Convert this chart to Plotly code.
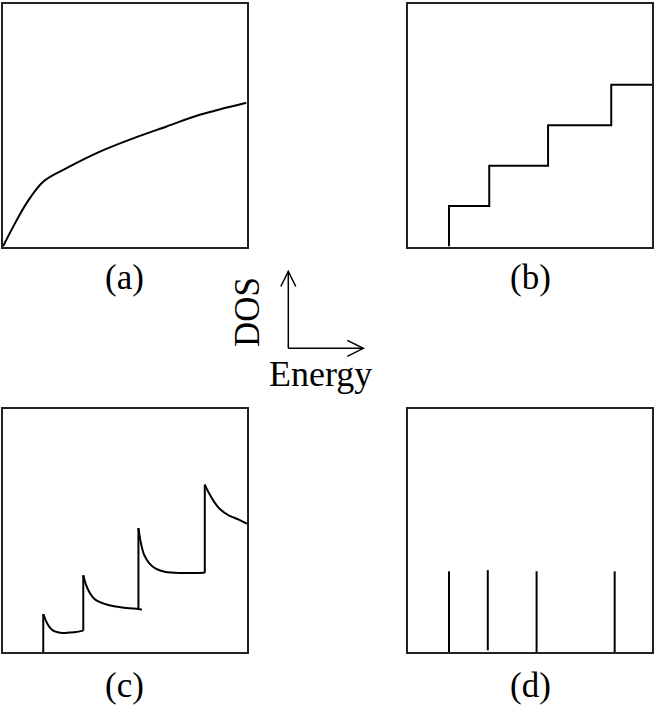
import plotly.graph_objects as go

# ---- data (energy axis normalised to 0..1 in every panel) ----
# (a) bulk: smooth rise with a knee
a_energy = [0.0, 0.042, 0.097, 0.166, 0.261, 0.398, 0.535, 0.672, 0.808, 1.0]
a_dos = [0.0, 0.082, 0.179, 0.268, 0.323, 0.391, 0.446, 0.495, 0.543, 0.593]

# (b) quantum well: staircase
b_onsets = [0.168, 0.333, 0.574, 0.833]
b_levels = [1, 2, 3, 4]

# (c) quantum wire: spikes at each sub-band edge
c_onsets = [0.165, 0.329, 0.555, 0.827]
c_base = [0.0, 0.088, 0.177, 0.326]
c_seg_x = [
    [0.165, 0.177, 0.190, 0.204, 0.224, 0.245, 0.272, 0.299, 0.329],
    [0.329, 0.340, 0.354, 0.374, 0.395, 0.435, 0.476, 0.517, 0.555, 0.569],
    [0.555, 0.565, 0.578, 0.599, 0.626, 0.667, 0.721, 0.776, 0.827],
    [0.827, 0.844, 0.864, 0.891, 0.925, 0.966, 1.0],
]
c_seg_y = [
    [0.156, 0.126, 0.103, 0.089, 0.081, 0.078, 0.080, 0.082, 0.088],
    [0.316, 0.277, 0.246, 0.219, 0.206, 0.192, 0.185, 0.180, 0.177, 0.174],
    [0.510, 0.449, 0.401, 0.366, 0.343, 0.329, 0.325, 0.325, 0.326],
    [0.689, 0.654, 0.620, 0.586, 0.562, 0.545, 0.528],
]

# (d) quantum dot: discrete levels
d_levels = [0.168, 0.327, 0.527, 0.847]
d_heights = [0.332, 0.337, 0.332, 0.332]
d_base = [0.0, 0.007, 0.0, 0.0]

panel_labels = ["(a)", "(b)", "(c)", "(d)"]

# ---- layout geometry (pixels) ----
W, H = 654, 705
FONT = "'Liberation Serif', 'Times New Roman', Times, serif"
LINE = dict(color="black", width=2)


def xd(l, r):
    return [l / W, r / W]


def yd(t, b):
    return [1 - b / H, 1 - t / H]


def px(x):
    return x / W


def py(y):
    return 1 - y / H


fig = go.Figure()

# (a)
fig.add_trace(go.Scatter(x=a_energy, y=a_dos, mode="lines", line=dict(**LINE, shape="spline", smoothing=1.0),
                         xaxis="x", yaxis="y"))

# (b)
bx = [b_onsets[0]] + b_onsets + [1.0]
by = [0] + b_levels + [b_levels[-1]]
fig.add_trace(go.Scatter(x=bx, y=by, mode="lines", line=dict(**LINE, shape="hv"), xaxis="x2", yaxis="y2"))

# (c)
for i in range(len(c_onsets)):
    fig.add_trace(go.Scatter(x=[c_onsets[i], c_onsets[i]], y=[c_base[i], c_seg_y[i][0]], mode="lines",
                             line=LINE, xaxis="x3", yaxis="y3"))
    fig.add_trace(go.Scatter(x=c_seg_x[i], y=c_seg_y[i], mode="lines",
                             line=dict(**LINE, shape="spline", smoothing=0.7), xaxis="x3", yaxis="y3"))

# (d)
dx, dy = [], []
for e, h, b in zip(d_levels, d_heights, d_base):
    dx += [e, e, None]
    dy += [b, h, None]
fig.add_trace(go.Scatter(x=dx, y=dy, mode="lines", line=LINE, xaxis="x4", yaxis="y4"))

ax_style = dict(showline=True, mirror=True, linecolor="#222", linewidth=2, showgrid=False,
                zeroline=False, showticklabels=False, ticks="", fixedrange=True)

fig.update_layout(
    width=W, height=H, margin=dict(l=0, r=0, t=0, b=0),
    paper_bgcolor="white", plot_bgcolor="white", showlegend=False,
    xaxis=dict(domain=xd(3, 246.5), range=[0, 1], anchor="y", **ax_style),
    yaxis=dict(domain=yd(4, 246.5), range=[0, 1], anchor="x", **ax_style),
    xaxis2=dict(domain=xd(408, 652), range=[0, 1], anchor="y2", **ax_style),
    yaxis2=dict(domain=yd(4, 246.5), range=[0, 6], anchor="x2", **ax_style),
    xaxis3=dict(domain=xd(3, 247), range=[0, 1], anchor="y3", **ax_style),
    yaxis3=dict(domain=yd(409, 652), range=[0, 1], anchor="x3", **ax_style),
    xaxis4=dict(domain=xd(408, 652), range=[0, 1], anchor="y4", **ax_style),
    yaxis4=dict(domain=yd(409, 652), range=[0, 1], anchor="x4", **ax_style),
)

# panel labels
label_pos = [(124, 277), (530, 277), (124, 685), (530, 685)]
for txt, (x, y) in zip(panel_labels, label_pos):
    fig.add_annotation(text=txt, x=px(x), y=py(y), xref="paper", yref="paper", showarrow=False,
                       xanchor="center", yanchor="middle", font=dict(family=FONT, size=35, color="black"))

# DOS / Energy axis key
fig.add_annotation(text="DOS", x=px(247), y=py(312), xref="paper", yref="paper", showarrow=False,
                   textangle=-90, xanchor="center", yanchor="middle",
                   font=dict(family=FONT, size=35, color="black"))
fig.add_annotation(text="Energy", x=px(320), y=py(374), xref="paper", yref="paper", showarrow=False,
                   xanchor="center", yanchor="middle", font=dict(family=FONT, size=36, color="black"))

ox, oy = 288.3, 348.3
arrow_paths = [
    [(ox, oy), (ox, 271.5)],
    [(280.8, 286.5), (ox, 271.5), (295.8, 286.5)],
    [(ox, oy), (363.3, oy)],
    [(347.3, 340.3), (363.3, oy), (347.3, 356.3)],
]
for pts in arrow_paths:
    path = "M " + " L ".join(f"{px(x):.5f},{py(y):.5f}" for x, y in pts)
    fig.add_shape(type="path", path=path, xref="paper", yref="paper",
                  line=dict(color="black", width=1.5))

fig.write_html("out.html")
